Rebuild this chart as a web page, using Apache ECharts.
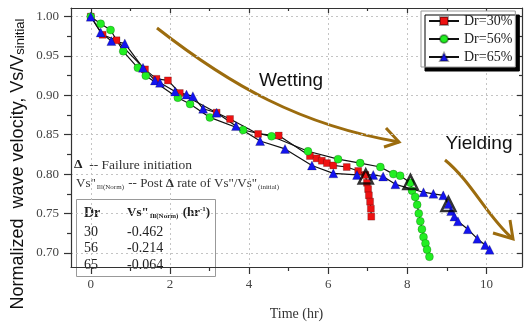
<!DOCTYPE html>
<html>
<head>
<meta charset="utf-8">
<script src="https://cdn.jsdelivr.net/npm/echarts@6/dist/echarts.min.js"></script>
<style>
  html, body { margin: 0; padding: 0; background: #fff; }
  #chart { width: 524px; height: 326px; }
</style>
</head>
<body>
<div id="chart"></div>
<script>
// values
const time30 = [0, 0.30, 0.65, 1.37, 1.66, 1.95, 2.25, 3.18, 3.52, 4.23, 4.75, 5.54, 5.71, 5.84, 5.97, 6.13, 6.47, 6.76, 6.94, 6.98, 7.01, 7.03, 7.06, 7.08, 7.09]
const vs30 = [1.000, 0.977, 0.970, 0.933, 0.921, 0.919, 0.903, 0.878, 0.870, 0.851, 0.849, 0.823, 0.820, 0.817, 0.814, 0.811, 0.809, 0.804, 0.799, 0.789, 0.781, 0.773, 0.765, 0.756, 0.746]

const time56 = [0, 0.25, 0.50, 0.82, 1.19, 1.39, 2.20, 2.51, 3.01, 3.85, 4.57, 5.49, 6.25, 6.81, 7.32, 7.65, 7.82, 8.08, 8.12, 8.20, 8.25, 8.29, 8.33, 8.37, 8.41, 8.46, 8.50, 8.56]
const vs56 = [1.000, 0.991, 0.983, 0.956, 0.935, 0.925, 0.897, 0.889, 0.872, 0.856, 0.848, 0.829, 0.819, 0.814, 0.809, 0.800, 0.798, 0.789, 0.779, 0.771, 0.761, 0.750, 0.740, 0.730, 0.720, 0.712, 0.704, 0.695]

const time65 = [0, 0.25, 0.52, 0.86, 1.32, 1.62, 1.75, 2.13, 2.42, 2.58, 2.84, 3.18, 3.67, 4.28, 4.91, 5.59, 6.13, 6.73, 7.14, 7.39, 7.70, 8.41, 8.66, 8.91, 9.04, 9.11, 9.19, 9.28, 9.53, 9.77, 9.97, 10.08]
const vs65 = [1.000, 0.980, 0.969, 0.966, 0.935, 0.919, 0.916, 0.905, 0.901, 0.899, 0.883, 0.878, 0.861, 0.842, 0.832, 0.811, 0.801, 0.799, 0.799, 0.797, 0.787, 0.777, 0.775, 0.773, 0.762, 0.753, 0.746, 0.740, 0.730, 0.718, 0.710, 0.704]

// failure initiation (open triangles)
const failTime = [6.95, 8.08, 9.04]
const failVs = [0.797, 0.790, 0.762]

const seriesNames = ['Dr=30%', 'Dr=56%', 'Dr=65%']
const xMajor = [0, 2, 4, 6, 8, 10]
const xMinor = [1, 3, 5, 7, 9]
const yMajor = [0.70, 0.75, 0.80, 0.85, 0.90, 0.95, 1.00]
const yMinor = [0.725, 0.775, 0.825, 0.875, 0.925, 0.975]
const tableDr = ['30', '56', '65']
const tableRate = ['-0.462', '-0.214', '-0.064']

const serif = 'Liberation Serif'
const sans = 'Liberation Sans'
const brown = '#9c6c0e'
const axisCol = '#333'

const zip = (xs, ys) => xs.map((x, i) => [x, ys[i]])

const xRange = { min: -0.5, max: 10.9 }
const yRange = { min: 0.682, max: 1.011 }

function makeAxis(range, position, ticks, len, inside, withLine, extra) {
  return Object.assign({
    type: 'value',
    position,
    min: range.min,
    max: range.max,
    axisLine: { show: withLine, onZero: false, lineStyle: { color: axisCol, width: 1.2 } },
    axisTick: { show: true, inside, length: len, customValues: ticks, lineStyle: { color: axisCol, width: 1.2 } },
    axisLabel: { show: false },
    splitLine: { show: false },
  }, extra || {})
}

const chart = echarts.init(document.getElementById('chart'), null, { renderer: 'canvas' })

const lineSeries = (name, xs, ys, symbol, size, color) => ({
  name,
  type: 'line',
  data: zip(xs, ys),
  symbol,
  symbolSize: size,
  showSymbol: true,
  lineStyle: { color: '#111', width: 1.2 },
  itemStyle: { color, borderColor: 'rgba(0,0,0,0.35)', borderWidth: 0.6 },
  z: 3,
})

// table rows
const tableTexts = []
tableDr.forEach((dr, i) => {
  tableTexts.push({ type: 'text', x: 84, y: 232 + i * 16.5, style: { text: dr, font: '14px ' + serif, fill: '#222', verticalAlign: 'middle' } })
  tableTexts.push({ type: 'text', x: 127, y: 232 + i * 16.5, style: { text: tableRate[i], font: '14px ' + serif, fill: '#222', verticalAlign: 'middle' } })
})

chart.setOption({
  animation: false,
  grid: { left: 71, right: 2, top: 8, bottom: 48 },
  xAxis: [
    makeAxis(xRange, 'bottom', xMajor, 7, false, true, {
      axisLabel: { show: true, customValues: xMajor, margin: 11, color: '#444', fontFamily: serif, fontSize: 13 },
      splitLine: { show: true, lineStyle: { color: '#c4c4c4', type: [2, 3], width: 1 } },
      name: 'Time (hr)',
      nameLocation: 'middle',
      nameGap: 40,
      nameTextStyle: { fontFamily: serif, fontSize: 14, color: '#333' },
    }),
    makeAxis(xRange, 'bottom', xMinor, 4, false, false),
    makeAxis(xRange, 'top', xMajor, 5, true, true),
    makeAxis(xRange, 'top', xMinor, 3, true, false),
  ],
  yAxis: [
    makeAxis(yRange, 'left', yMajor, 7, false, true, {
      axisLabel: { show: true, customValues: yMajor, margin: 12, color: '#444', fontFamily: serif, fontSize: 13, formatter: (v) => v.toFixed(2) },
      splitLine: { show: true, lineStyle: { color: '#c4c4c4', type: [2, 3], width: 1 } },
    }),
    makeAxis(yRange, 'left', yMinor, 4, false, false),
    makeAxis(yRange, 'right', yMajor, 5, true, true),
    makeAxis(yRange, 'right', yMinor, 3, true, false),
  ],
  legend: {
    data: seriesNames,
    orient: 'vertical',
    left: 421,
    top: 11,
    padding: [3, 3, 3, 7],
    itemGap: 4,
    itemWidth: 30,
    itemHeight: 10,
    backgroundColor: '#fff',
    borderColor: '#999',
    borderWidth: 1,
    shadowColor: '#000',
    shadowBlur: 0,
    shadowOffsetX: 4,
    shadowOffsetY: 4,
    textStyle: { fontFamily: serif, fontSize: 14, color: '#222', lineHeight: 14 },
  },
  series: [
    lineSeries(seriesNames[0], time30, vs30, 'rect', 7, '#ee1111'),
    lineSeries(seriesNames[1], time56, vs56, 'circle', 8, '#22ee22'),
    lineSeries(seriesNames[2], time65, vs65, 'triangle', 9, '#1414ee'),
    {
      name: 'Failure initiation',
      type: 'scatter',
      data: zip(failTime, failVs),
      symbol: 'triangle',
      symbolSize: 14,
      itemStyle: { color: 'rgba(0,0,0,0)', borderColor: '#000', borderWidth: 2.5 },
      z: 5,
    },
  ],
  graphic: [
    // y axis title
    {
      type: 'text', x: 18, y: 164, rotation: Math.PI / 2,
      style: {
        text: '{a|Normalized  wave velocity, Vs/V}{b|sinitial}',
        align: 'center', verticalAlign: 'middle',
        rich: {
          a: { fontFamily: sans, fontSize: 18, fill: '#111', lineHeight: 18, verticalAlign: 'top' },
          b: { fontFamily: sans, fontSize: 13, fill: '#111', lineHeight: 14, padding: [8, 0, 0, 0], verticalAlign: 'bottom' },
        },
      },
    },
    // wetting arrow
    {
      type: 'bezierCurve',
      shape: { x1: 157, y1: 28, cpx1: 230, cpy1: 85, cpx2: 300, cpy2: 125, x2: 399, y2: 142 },
      style: { stroke: brown, lineWidth: 3, fill: null },
    },
    {
      type: 'polyline',
      shape: { points: [[386, 128], [399, 142], [384, 147]] },
      style: { stroke: brown, lineWidth: 3, fill: null },
    },
    // yielding arrow
    {
      type: 'bezierCurve',
      shape: { x1: 445, y1: 160, cpx1: 472, cpy1: 182, cpx2: 488, cpy2: 218, x2: 513, y2: 239 },
      style: { stroke: brown, lineWidth: 3, fill: null },
    },
    {
      type: 'polyline',
      shape: { points: [[510, 220], [513, 239], [493, 233]] },
      style: { stroke: brown, lineWidth: 3, fill: null },
    },
    { type: 'text', x: 291, y: 81, style: { text: 'Wetting', font: '19px ' + sans, fill: '#111', align: 'center', verticalAlign: 'middle' } },
    { type: 'text', x: 479, y: 144, style: { text: 'Yielding', font: '19px ' + sans, fill: '#111', align: 'center', verticalAlign: 'middle' } },
    // notes
    {
      type: 'text', x: 74, y: 165,
      style: {
        text: '{d|Δ}  -- Failure initiation',
        font: '13.5px ' + serif, fill: '#333', verticalAlign: 'middle',
        rich: { d: { fontFamily: serif, fontSize: 13.5, fontWeight: 'bold', fill: '#222' } },
      },
    },
    {
      type: 'text', x: 76, y: 184,
      style: {
        text: '{m|Vs"}{s|Ill(Norm)}{m| -- Post }{d|Δ}{m| rate of Vs"/Vs"}{s|(initial)}',
        verticalAlign: 'middle',
        rich: {
          m: { fontFamily: serif, fontSize: 13, fill: '#333', lineHeight: 14, verticalAlign: 'top' },
          d: { fontFamily: serif, fontSize: 13, fontWeight: 'bold', fill: '#333', lineHeight: 14, verticalAlign: 'top' },
          s: { fontFamily: serif, fontSize: 7, fill: '#333', lineHeight: 8, padding: [10, 1, 0, 1], verticalAlign: 'bottom' },
        },
      },
    },
    // table
    {
      type: 'rect',
      shape: { x: 76.5, y: 199.5, width: 139, height: 77 },
      style: { fill: '#fff', stroke: '#999', lineWidth: 1 },
    },
    { type: 'text', x: 84, y: 213, style: { text: 'Dr', font: 'bold 14px ' + serif, fill: '#222', verticalAlign: 'middle' } },
    {
      type: 'text', x: 127, y: 213,
      style: {
        text: '{b|Vs"}{s|Ill(Norm)}{b| (hr}{p|-1}{b|)}',
        verticalAlign: 'middle',
        rich: {
          b: { fontFamily: serif, fontSize: 13, fontWeight: 'bold', fill: '#222', lineHeight: 14, verticalAlign: 'top' },
          s: { fontFamily: serif, fontSize: 7, fontWeight: 'bold', fill: '#222', lineHeight: 8, padding: [10, 1, 0, 1], verticalAlign: 'bottom' },
          p: { fontFamily: serif, fontSize: 7, fontWeight: 'bold', fill: '#222', lineHeight: 8, verticalAlign: 'top' },
        },
      },
    },
  ].concat(tableTexts),
})

window.addEventListener('resize', () => chart.resize())
</script>
</body>
</html>
